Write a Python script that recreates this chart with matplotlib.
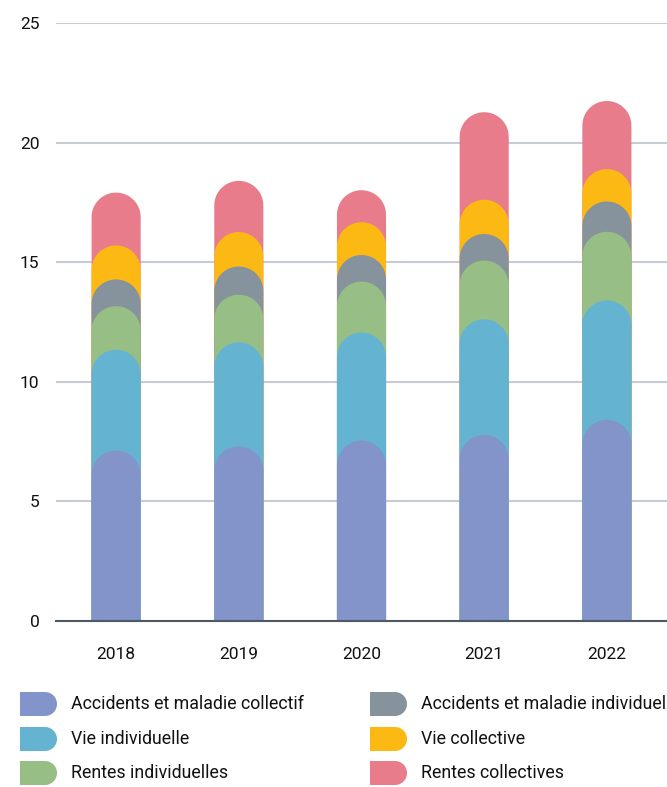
import matplotlib.pyplot as plt
from matplotlib.patches import Polygon
import numpy as np

plt.rcParams['font.family'] = ['Roboto', 'DejaVu Sans']

# data (segment heights, stacked bottom -> top)
years = ['2018', '2019', '2020', '2021', '2022']
series_names = ['Accidents et maladie collectif', 'Vie individuelle', 'Rentes individuelles',
                'Accidents et maladie individuel', 'Vie collective', 'Rentes collectives']
acc_collectif = [7.13, 7.30, 7.54, 7.78, 8.41]
vie_indiv = [4.21, 4.35, 4.52, 4.83, 4.99]
rentes_indiv = [1.82, 1.99, 2.13, 2.46, 2.87]
acc_indiv = [1.12, 1.18, 1.11, 1.11, 1.27]
vie_coll = [1.42, 1.44, 1.37, 1.43, 1.35]
rentes_coll = [2.21, 2.14, 1.34, 3.66, 2.85]
colors = ['#8394cb', '#64b3d0', '#97bf85', '#87939c', '#fdb913', '#e87c8b']

series = [acc_collectif, vie_indiv, rentes_indiv, acc_indiv, vie_coll, rentes_coll]
cum = np.cumsum(np.array(series), axis=0)

W, H = 667, 787
fig = plt.figure(figsize=(W / 100, H / 100), dpi=100)
ax = fig.add_axes([56 / W, (H - 621) / H, (W - 56) / W, (621 - 23) / H])
ax.set_xlim(-0.49, 4.49)
ax.set_ylim(0, 25)

# rounded tops: radius converted to data units on each axis
sx = (W - 56) / 4.98
sy = (621 - 23) / 25
hw = 0.2
ry = hw * sx / sy
theta = np.linspace(0, np.pi, 40)

x = np.arange(len(years))
for k in range(len(series) - 1, -1, -1):
    for i, xc in enumerate(x):
        top = cum[k, i]
        arc = np.column_stack([xc + hw * np.cos(theta), top - ry + ry * np.sin(theta)])
        pts = np.vstack([[xc + hw, 0], arc, [xc - hw, 0]])
        ax.add_patch(Polygon(pts, closed=True, facecolor=colors[k], edgecolor='none', zorder=3))

ax.set_yticks([0, 5, 10, 15, 20, 25])
ax.grid(axis='y', color='#c5ccd6', linewidth=1.5, zorder=0)
ax.set_axisbelow(True)
ax.set_xticks(x)
ax.set_xticklabels(years)
ax.tick_params(axis='both', length=0, labelsize=12.5, colors='#111111')
ax.tick_params(axis='x', pad=19)
ax.tick_params(axis='y', pad=12)
for s in ['top', 'right', 'left']:
    ax.spines[s].set_visible(False)
ax.spines['bottom'].set_color('#4d5a66')
ax.spines['bottom'].set_linewidth(1.5)
ax.spines['bottom'].set_zorder(4)

# legend in pixel coordinates
lax = fig.add_axes([0, 0, 1, 1], zorder=-1)
lax.set_xlim(0, W)
lax.set_ylim(H, 0)
lax.axis('off')

rows = [704, 739, 773]
cols = [20, 370]
h = 12
t = np.linspace(-np.pi / 2, np.pi / 2, 30)
for k, name in enumerate(series_names):
    cx = cols[k // 3]
    cy = rows[k % 3]
    verts = [(cx, cy - h)]
    verts += list(zip(cx + 37 - h + h * np.cos(t), cy + h * np.sin(t)))
    verts += [(cx, cy + h)]
    lax.add_patch(Polygon(verts, closed=True, facecolor=colors[k], edgecolor='none'))
    lax.text(cx + 51, cy, name, ha='left', va='center', fontsize=12.8, color='#111111')

fig.savefig('out.png', dpi=100)
